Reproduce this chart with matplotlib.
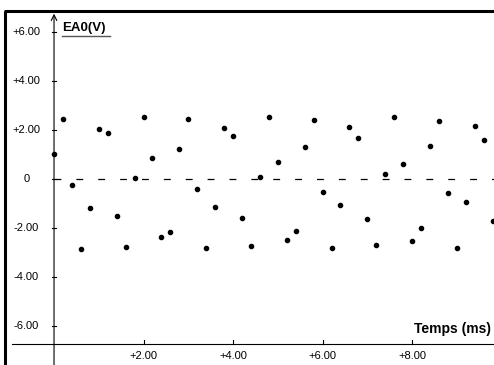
import numpy as np
import matplotlib.pyplot as plt

# EA0 samples (ms, V)
temps = [0.0, 0.2, 0.4, 0.6, 0.8, 1.0, 1.2, 1.4, 1.6, 1.8,
         2.0, 2.2, 2.4, 2.6, 2.8, 3.0, 3.2, 3.4, 3.6, 3.8,
         4.0, 4.2, 4.4, 4.6, 4.8, 5.0, 5.2, 5.4, 5.6, 5.8,
         6.0, 6.2, 6.4, 6.6, 6.8, 7.0, 7.2, 7.4, 7.6, 7.8,
         8.0, 8.2, 8.4, 8.6, 8.8, 9.0, 9.2, 9.4, 9.6, 9.8]
ea0 = [1.02, 2.45, -0.26, -2.84, -1.18, 2.05, 1.87, -1.50, -2.79, 0.03,
       2.53, 0.84, -2.38, -2.16, 1.21, 2.44, -0.40, -2.83, -1.14, 2.09,
       1.74, -1.59, -2.75, 0.09, 2.53, 0.71, -2.48, -2.12, 1.29, 2.40,
       -0.53, -2.83, -1.06, 2.13, 1.69, -1.63, -2.69, 0.19, 2.53, 0.62,
       -2.52, -1.99, 1.33, 2.36, -0.57, -2.83, -0.93, 2.18, 1.59, -1.73]

yticks = [6, 4, 2, 0, -2, -4, -6]
ylabels = ["+6.00", "+4.00", "+2.00", "0", "-2.00", "-4.00", "-6.00"]
xticks = [2, 4, 6, 8]
xlabels = ["+2.00", "+4.00", "+6.00", "+8.00"]

plt.rcParams['font.family'] = ['Liberation Sans', 'DejaVu Sans']

fig = plt.figure(figsize=(4.94, 3.65), dpi=100)
ax = fig.add_axes([0, 0, 1, 1])
xmin, xmax = -1.207, 9.83
ymin, ymax = -7.59, 7.31
ax.set_xlim(xmin, xmax)
ax.set_ylim(ymin, ymax)
ax.axis("off")

# cadre
ax.plot([-1.10, -1.10], [ymin, 6.88], color="black", lw=2.2, solid_capstyle="butt")
ax.plot([-1.12, xmax], [6.88, 6.88], color="black", lw=2.2, solid_capstyle="butt")

# axes
y_axe = -6.73
ax.plot([-0.94, xmax], [y_axe, y_axe], color="black", lw=0.8)
ax.annotate("", xy=(0, 6.75), xytext=(0, ymin),
            arrowprops=dict(arrowstyle="->", color="black", lw=0.8,
                            shrinkA=0, shrinkB=0, mutation_scale=10))
ax.plot([0, xmax], [0, 0], color="black", lw=0.9, dashes=(5.5, 12))

for v, lab in zip(yticks, ylabels):
    ax.plot([-0.05, 0.05], [v, v], color="black", lw=0.8)
    ax.text(-0.62, v, lab, ha="center", va="center", fontsize=8)
for t, lab in zip(xticks, xlabels):
    ax.plot([t, t], [y_axe, y_axe + 0.15], color="black", lw=0.8)
    ax.text(t, y_axe - 0.5, lab, ha="center", va="center", fontsize=8)

ax.text(0.18, 6.15, "EA0(V)", ha="left", va="center", fontsize=9.5, fontweight="bold")
ax.plot([0.18, 1.25], [5.84, 5.84], color="#555555", lw=1.0)
ax.text(9.76, y_axe + 0.33, "Temps (ms)", ha="right", va="bottom",
        fontsize=10, fontweight="bold")

ax.plot(temps, ea0, "o", color="black", markersize=3.0, clip_on=True)

plt.savefig("out.png", dpi=100)
